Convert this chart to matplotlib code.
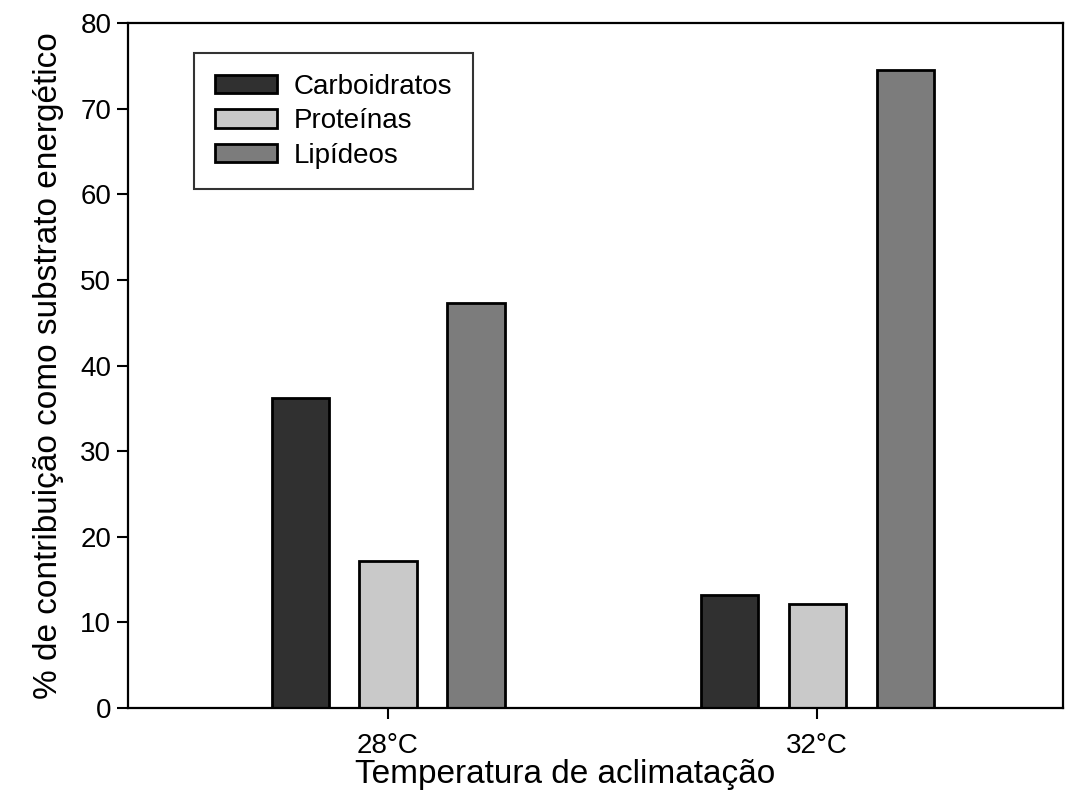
import matplotlib
matplotlib.use("Agg")
import matplotlib.pyplot as plt
import numpy as np

plt.rcParams['font.family'] = ['Liberation Sans', 'DejaVu Sans']

categories = ["28°C", "32°C"]
series_names = ["Carboidratos", "Proteínas", "Lipídeos"]
carboidratos = [36.2, 13.2]
proteinas = [17.2, 12.1]
lipideos = [47.3, 74.5]
colors = ["#303030", "#c9c9c9", "#7c7c7c"]
y_ticks = [0, 10, 20, 30, 40, 50, 60, 70, 80]

fig = plt.figure(figsize=(10.66, 8.07), dpi=100)
ax = fig.add_axes([128/1066, 1 - 708/807, (1063-128)/1066, (708-23)/807])

x = np.arange(len(categories))
offset = 0.205
width = 0.133
for i, (vals, name, c) in enumerate(zip([carboidratos, proteinas, lipideos], series_names, colors)):
    ax.bar(x + (i - 1) * offset, vals, width, color=c, edgecolor="black",
           linewidth=2, label=name)

ax.set_xlim(-0.606, 1.573)
ax.set_ylim(0, 80)
ax.set_yticks(y_ticks)
ax.set_xticks(x)
ax.set_xticklabels(categories)
ax.tick_params(axis='both', labelsize=20, length=8, width=1.5, direction='out')
ax.tick_params(axis='x', pad=10)
ax.tick_params(axis='y', pad=4)
for s in ax.spines.values():
    s.set_linewidth(1.6)

ax.set_xlabel("Temperatura de aclimatação", fontsize=24)
ax.xaxis.set_label_coords(0.467, -0.075)
ax.set_ylabel("% de contribuição como substrato energético", fontsize=24, labelpad=12)

leg = ax.legend(loc='upper left', bbox_to_anchor=(0.071, 0.956), borderaxespad=0,
                fontsize=20, frameon=True, fancybox=False, edgecolor='black',
                handlelength=2.23, handleheight=0.65, labelspacing=0.3,
                borderpad=0.75, handletextpad=0.58)
leg.get_frame().set_linewidth(1.5)

fig.savefig("out.png", dpi=100, facecolor="white")
